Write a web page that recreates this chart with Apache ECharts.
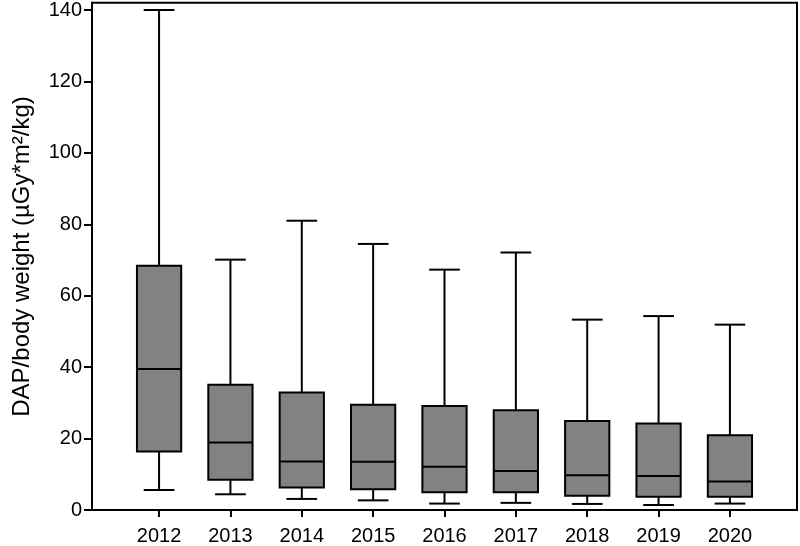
<!DOCTYPE html>
<html>
<head>
<meta charset="utf-8">
<style>
  html, body { margin: 0; padding: 0; background: #fff; }
  #main { width: 800px; height: 546px; }
</style>
<script src="https://cdn.jsdelivr.net/npm/echarts@6/dist/echarts.min.js"></script>
</head>
<body>
<div id="main"></div>
<script>
// 箱线图数据
const years = [2012, 2013, 2014, 2015, 2016, 2017, 2018, 2019, 2020]
const whiskerLow = [5.6, 4.4, 3.1, 2.7, 1.8, 2.0, 1.7, 1.4, 1.8]
const q1 = [16.4, 8.5, 6.3, 5.8, 5.0, 5.0, 4.0, 3.7, 3.7]
const median = [39.5, 18.9, 13.6, 13.5, 12.1, 10.9, 9.7, 9.5, 8.0]
const q3 = [68.4, 35.1, 32.9, 29.5, 29.1, 27.9, 24.9, 24.2, 20.9]
const whiskerHigh = [140, 70.1, 81, 74.5, 67.3, 72.1, 53.3, 54.3, 51.9]
const yTicks = [0, 20, 40, 60, 80, 100, 120, 140]

const boxData = years.map((y, i) => [y, whiskerLow[i], q1[i], median[i], q3[i], whiskerHigh[i]])

const fontFamily = '"Liberation Sans", Arial, sans-serif'

let myChart = echarts.init(document.getElementById('main'))

function renderBox(params, api) {
  const x = api.value(0)
  const band = api.size([1, 0])[0]
  const boxHalf = band * 0.31
  const capHalf = band * 0.215
  const pLow = api.coord([x, api.value(1)])
  const pQ1 = api.coord([x, api.value(2)])
  const pMed = api.coord([x, api.value(3)])
  const pQ3 = api.coord([x, api.value(4)])
  const pHigh = api.coord([x, api.value(5)])
  const cx = pLow[0]
  const lineStyle = { stroke: '#000', lineWidth: 2 }
  return {
    type: 'group',
    children: [
      { type: 'line', shape: { x1: cx, y1: pLow[1], x2: cx, y2: pQ1[1] }, style: lineStyle },
      { type: 'line', shape: { x1: cx, y1: pQ3[1], x2: cx, y2: pHigh[1] }, style: lineStyle },
      { type: 'line', shape: { x1: cx - capHalf, y1: pLow[1], x2: cx + capHalf, y2: pLow[1] }, style: lineStyle },
      { type: 'line', shape: { x1: cx - capHalf, y1: pHigh[1], x2: cx + capHalf, y2: pHigh[1] }, style: lineStyle },
      {
        type: 'rect',
        shape: { x: cx - boxHalf, y: pQ3[1], width: boxHalf * 2, height: pQ1[1] - pQ3[1] },
        style: { fill: '#828282', stroke: '#000', lineWidth: 2 },
      },
      { type: 'line', shape: { x1: cx - boxHalf, y1: pMed[1], x2: cx + boxHalf, y2: pMed[1] }, style: lineStyle },
    ],
  }
}

myChart.setOption({
  animation: false,
  grid: {
    left: 92,
    right: 3,
    top: 1,
    bottom: 36,
    show: true,
    borderColor: '#000',
    borderWidth: 2,
    backgroundColor: 'transparent',
  },
  xAxis: {
    type: 'value',
    min: 2011.06,
    max: 2020.94,
    splitLine: { show: false },
    axisLine: { show: true, lineStyle: { color: '#000', width: 2 } },
    axisTick: { show: true, length: 7, customValues: years, lineStyle: { color: '#000', width: 2 } },
    axisLabel: {
      customValues: years,
      formatter: (v) => String(v),
      color: '#000',
      fontSize: 20,
      fontFamily: fontFamily,
      margin: 16,
    },
  },
  yAxis: {
    type: 'value',
    min: 0,
    max: 142,
    name: 'DAP/body weight (µGy*m²/kg)',
    nameLocation: 'middle',
    nameGap: 58,
    nameTextStyle: { color: '#000', fontSize: 24, fontFamily: fontFamily },
    splitLine: { show: false },
    axisLine: { show: true, lineStyle: { color: '#000', width: 2 } },
    axisTick: { show: true, length: 8, customValues: yTicks, lineStyle: { color: '#000', width: 2 } },
    axisLabel: {
      customValues: yTicks,
      formatter: (v) => String(v),
      color: '#000',
      fontSize: 20,
      fontFamily: fontFamily,
      margin: 10,
    },
  },
  series: [
    {
      type: 'custom',
      renderItem: renderBox,
      encode: { x: 0, y: [1, 2, 3, 4, 5] },
      data: boxData,
    },
  ],
})
</script>
</body>
</html>
